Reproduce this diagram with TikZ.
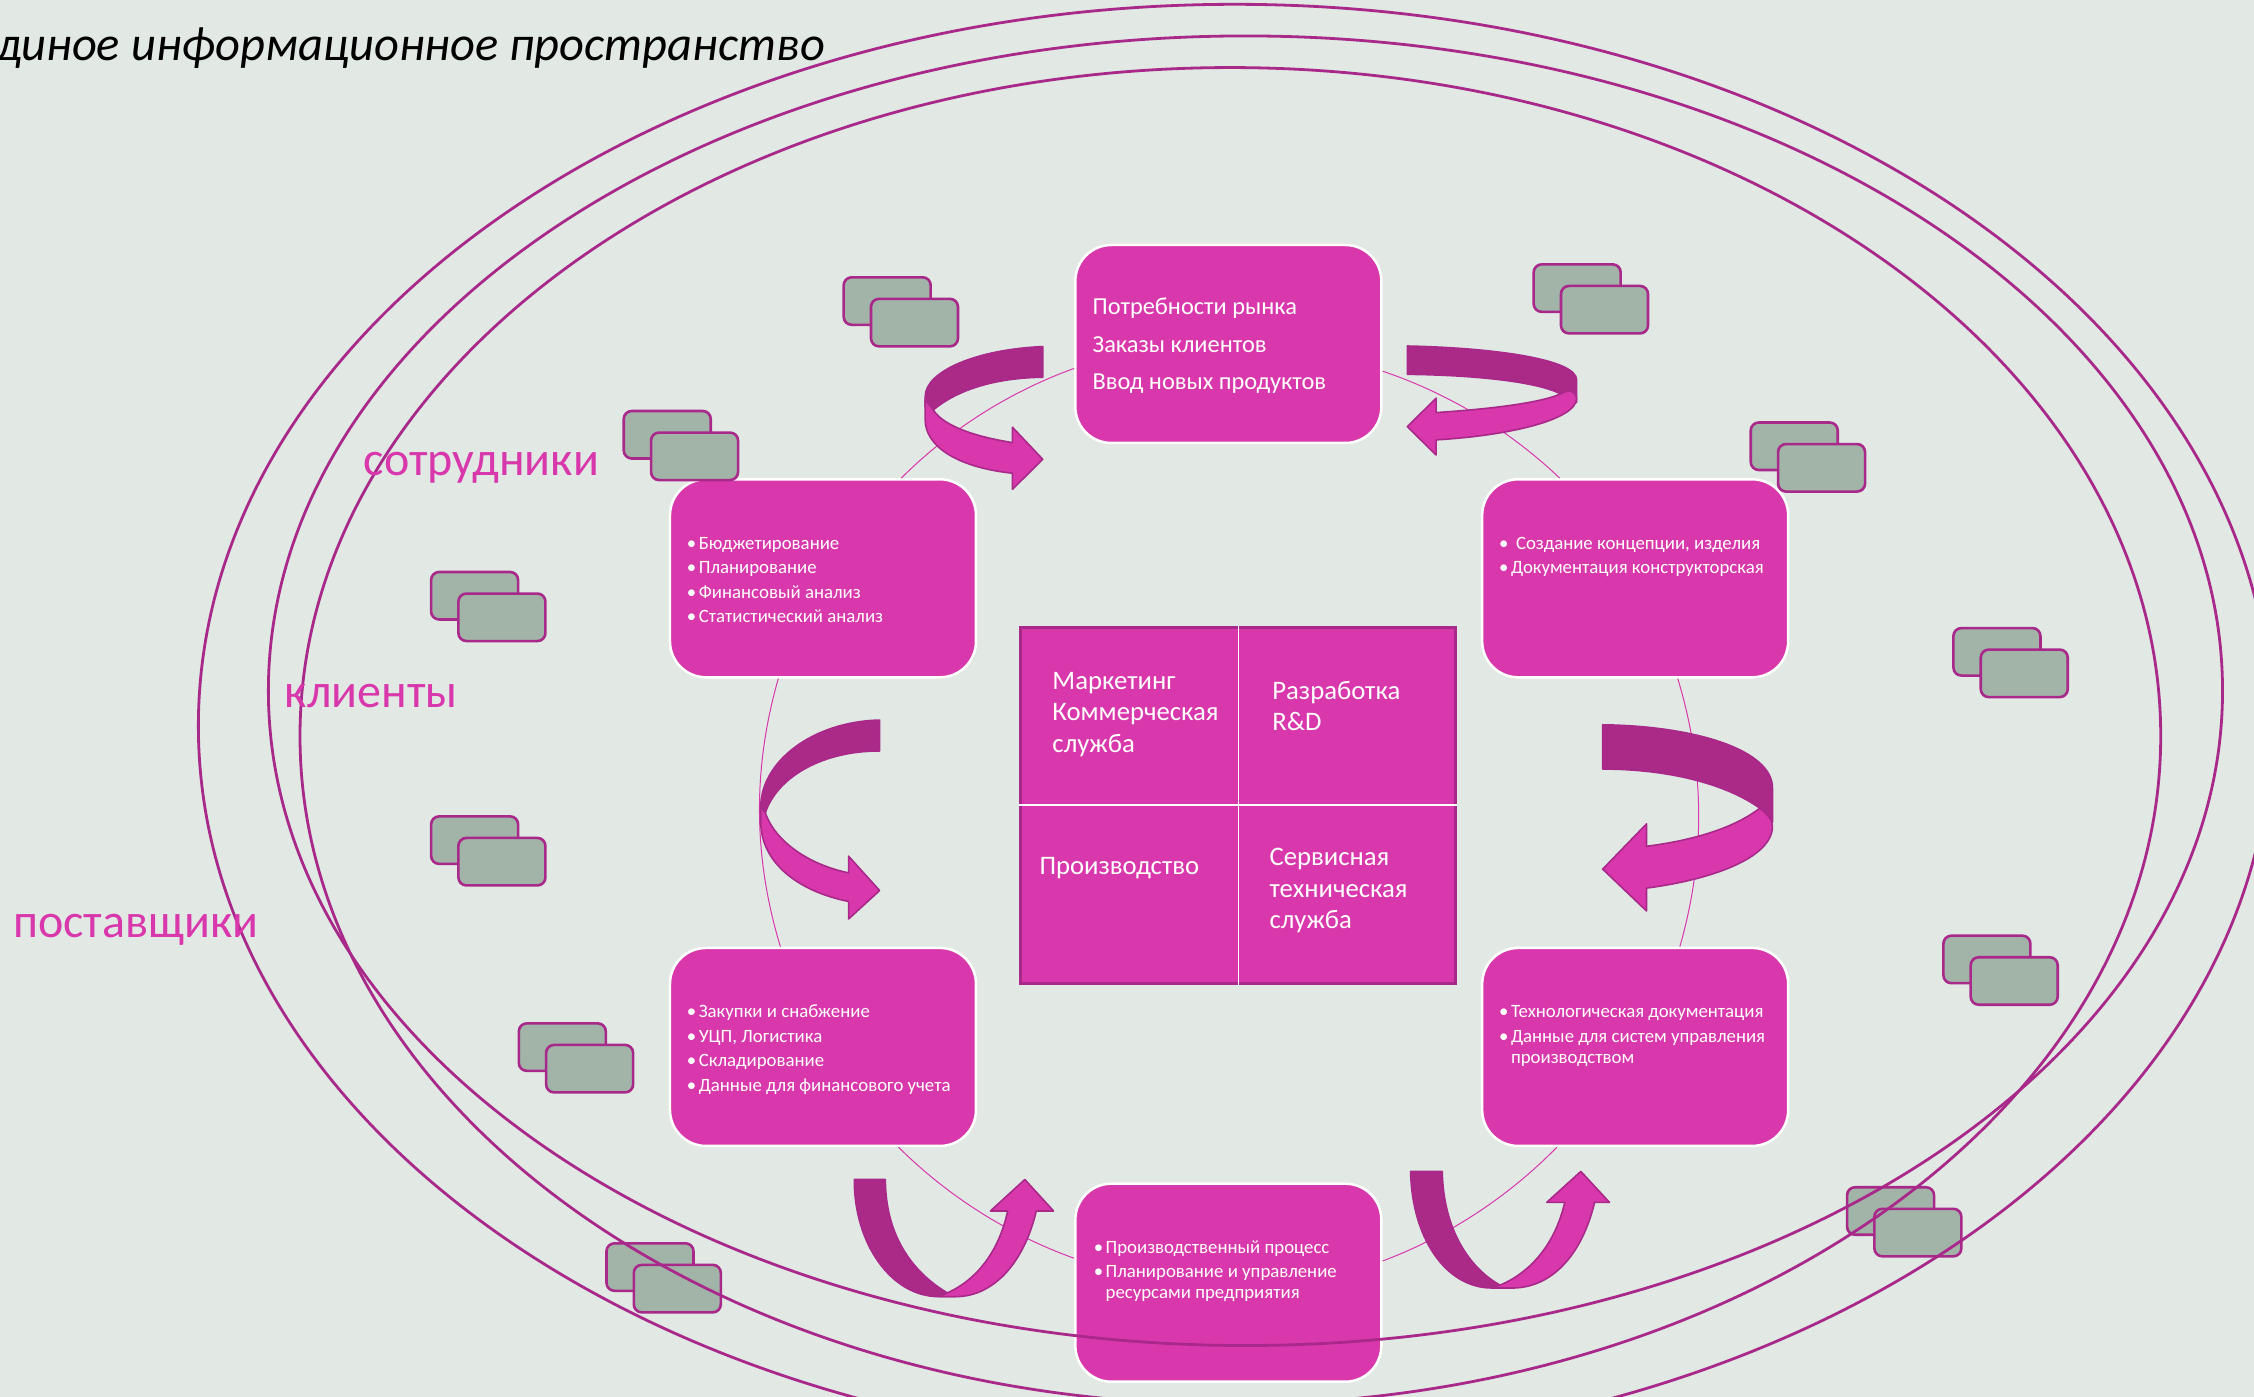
\documentclass[tikz,border=0pt]{standalone}
\usepackage{fontspec}
\setmainfont{Carlito}
\usetikzlibrary{calc}
\definecolor{bgc}{HTML}{E2E9E4}
\definecolor{mag}{HTML}{D838AC}
\definecolor{pur}{HTML}{A8298A}
\definecolor{drk}{HTML}{AB2A88}
\definecolor{gry}{HTML}{A2B3A8}
\tikzset{
  procbox/.style={draw=white,fill=mag,line width=2.5pt,rounded corners=36pt,minimum width=306pt,minimum height=198pt,inner sep=0pt},
  backcard/.style={draw=pur,fill=gry,line width=2.6pt,rounded corners=8pt,minimum width=87pt,minimum height=47.5pt,inner sep=0pt,anchor=north west},
  frontcard/.style={backcard},
  ring/.style={draw=pur,line width=2.8pt},
  cyc/.style={draw=mag,line width=1pt},
  lightarrow/.style={draw=pur,fill=mag,line width=1.6pt,line join=round},
  darkarrow/.style={draw=pur,fill=drk,line width=1.6pt,line join=round},
  txs/.style={text=white,font=\fontsize{18.8}{20}\selectfont,anchor=base west,inner sep=0pt},
  txm/.style={text=white,font=\fontsize{24.4}{26}\selectfont,anchor=base west,inner sep=0pt},
  txl/.style={text=white,font=\fontsize{26.7}{28}\selectfont,anchor=base west,inner sep=0pt},
  outer/.style={text=mag,font=\fontsize{48}{50}\selectfont,anchor=base west,inner sep=0pt},
}
\newcommand{\bul}{\llap{•\hspace{2.5pt}}}
\newcommand{\cards}[3]{%
  \node[backcard] (#1a) at (#2,#3) {};
  \node[frontcard] (#1b) at ($(#2,#3)+(19,15)$) {};
}
\begin{document}
\begin{tikzpicture}[x=1.4375pt,y=-1.4375pt]
\useasboundingbox (0,0) rectangle (1568,971.8);
\fill[bgc] (0,0) rectangle (1568,971.8);

\node[procbox] (top) at (854.5,239.3) {};
\node[procbox] (lu) at (572.5,402.3) {};
\node[procbox] (ru) at (1137.5,402.3) {};
\node[procbox] (ll) at (572.5,728.3) {};
\node[procbox] (rl) at (1137.5,728.3) {};
\node[procbox] (bot) at (854.5,892.3) {};

\draw[cyc] (top.189.6) to[bend right=12.5,looseness=.86] (lu.52.1);
\draw[cyc] (top.350.6) to[bend left=12.5,looseness=.86] (ru.127.9);
\draw[cyc] (ru.293.5) to[bend left=16.5,looseness=.89] (rl.66.5);
\draw[cyc] (lu.246.5) to[bend right=16.5,looseness=.89] (ll.113.5);
\draw[cyc] (ll.307.9) to[bend right=12.5,looseness=.86] (bot.171);
\draw[cyc] (rl.232.1) to[bend left=12.5,looseness=.86] (bot.8.9);

\node[draw=pur,fill=mag,line width=3pt,minimum width=435pt,minimum height=356pt,inner sep=0pt] (tab) at (861.5,560) {};
\draw[white,line width=1.4pt] (tab.north) -- (tab.south);
\draw[white,line width=1.4pt] (tab.west) -- (tab.east);

% curved arrows
\filldraw[darkarrow] (725.4,241.1) .. controls (680,243) and (643.6,258) .. (643.6,276) -- (643.6,283) -- (649.2,285.2) .. controls (665,272) and (690,263) .. (725.4,262.4) -- cycle;
\filldraw[lightarrow] (649.2,285.2) .. controls (657,297) and (680,304) .. (704.3,307.9) -- (704.3,297.2) -- (725.4,319.5) -- (704.3,340.4) -- (704.3,329.2) .. controls (665,325) and (643.6,310) .. (643.6,292) -- (643.6,278) -- cycle;

\filldraw[darkarrow] (979,240.7) .. controls (1040,242) and (1096.8,250) .. (1096.8,264.3) -- (1096.8,280) -- (1085.6,274) .. controls (1070,266) and (1030,261) .. (979,260.4) -- cycle;
\filldraw[lightarrow] (1085.6,274) .. controls (1070,281) and (1030,285) .. (999,287) -- (999,277) -- (979,296.8) -- (999,316.5) -- (999,306) .. controls (1050,303) and (1096.8,292) .. (1096.8,277) .. controls (1096.8,273) and (1092,270) .. cycle;

\filldraw[darkarrow] (611.9,500.9) .. controls (565,502) and (529.2,530) .. (529.2,561.5) -- (529.2,566) -- (532.4,565.5) .. controls (540,542) and (570,522.4) .. (611.9,522.4) -- cycle;
\filldraw[lightarrow] (532.4,565.5) .. controls (540,587) and (565,602) .. (590.3,607.2) -- (590.3,595.6) -- (611.9,619.5) -- (590.3,639.3) -- (590.3,627.1) .. controls (555,620) and (529.2,600) .. (529.2,571.5) -- (529.2,561.5) -- cycle;

\filldraw[darkarrow] (1114.9,504.2) .. controls (1180,505) and (1233,522) .. (1233,548) -- (1233,572) -- (1224.2,562.2) .. controls (1200,545) and (1160,535) .. (1114.9,535) -- cycle;
\filldraw[lightarrow] (1224.2,562.2) .. controls (1205,577) and (1175,585) .. (1145.4,588.7) -- (1145.4,573.1) -- (1114.9,604.6) -- (1145.4,633.7) -- (1145.4,617.8) .. controls (1190,612) and (1233,597) .. (1233,574.8) .. controls (1233,570) and (1229,566) .. cycle;

\filldraw[darkarrow] (594.3,820.5) .. controls (594,865) and (620,902) .. (653,902) -- (665,902) -- (659,899.4) .. controls (635,885) and (616,860) .. (615.9,820.5) -- cycle;
\filldraw[lightarrow] (659,899.4) .. controls (680,890) and (695,870) .. (701,842.4) -- (689,842.4) -- (712.9,820.5) -- (732.9,842.4) -- (720.9,842.4) .. controls (712,880) and (690,902) .. (665,902) -- (653,902) -- cycle;

\filldraw[darkarrow] (981.3,814.9) .. controls (982,860) and (1005,896) .. (1038,896) -- (1052,896) -- (1043.5,894) .. controls (1022,882) and (1004,855) .. (1003.3,814.9) -- cycle;
\filldraw[lightarrow] (1043.5,894) .. controls (1065,885) and (1082,865) .. (1088.5,836.4) -- (1076,836.4) -- (1099.7,814.9) -- (1119.6,836.4) -- (1109.3,836.4) .. controls (1100,875) and (1078,896) .. (1052,896) -- (1038,896) -- cycle;

% card pairs
\cards{c1}{586}{192}
\cards{c2}{1066}{183}
\cards{c3}{433}{285}
\cards{c4}{1217}{293}
\cards{c5}{299}{397}
\cards{c6}{1358}{436}
\cards{c7}{299}{567}
\cards{c8}{1351}{650}
\cards{c9}{360}{711}
\cards{c10}{1284}{825}
\cards{c11}{421}{864}

% rings
\draw[ring] (859,505) ellipse [x radius=721,y radius=502];
\draw[ring] (866.4,480.5) ellipse [x radius=679.7,y radius=455.5];
\draw[ring] (855.9,512) ellipse [x radius=647.2,y radius=465];

% texts
\node[anchor=base east,inner sep=0pt,font=\fontsize{48.5}{50}\selectfont\itshape] (title) at (574,42) {Единое информационное пространство};
\node[outer] (l1) at (253,331) {сотрудники};
\node[outer] (l2) at (198,492.5) {клиенты};
\node[outer] (l3) at (9,652) {поставщики};

\node[txm] (t1) at (760,219) {Потребности рынка};
\node[txm] (t2) at (760,245) {Заказы клиентов};
\node[txm] (t3) at (760,271) {Ввод новых продуктов};

\node[txs] (a1) at (486,382) {\bul Бюджетирование};
\node[txs] (a2) at (486,399) {\bul Планирование};
\node[txs] (a3) at (486,416) {\bul Финансовый анализ};
\node[txs] (a4) at (486,433) {\bul Статистический анализ};

\node[txs] (b1) at (1051,382) {\bul\hspace{5pt}Создание концепции, изделия};
\node[txs] (b2) at (1051,399) {\bul Документация конструкторская};

\node[txs] (c1) at (486,708) {\bul Закупки и снабжение};
\node[txs] (c2) at (486,725) {\bul УЦП, Логистика};
\node[txs] (c3) at (486,742) {\bul Складирование};
\node[txs] (c4) at (486,759) {\bul Данные для финансового учета};

\node[txs] (d1) at (1051,708) {\bul Технологическая документация};
\node[txs] (d2) at (1051,725) {\bul Данные для систем управления};
\node[txs] (d3) at (1051,739.5) {производством};

\node[txs] (e1) at (769,872) {\bul Производственный процесс};
\node[txs] (e2) at (769,889) {\bul Планирование и управление};
\node[txs] (e3) at (769,903) {ресурсами предприятия};

\node[txl] (m1) at (732,479.5) {Маркетинг};
\node[txl] (m2) at (732,501.5) {Коммерческая};
\node[txl] (m3) at (732,523.5) {служба};
\node[txl] (r1) at (885,486.5) {Разработка};
\node[txl] (r2) at (885,508.5) {R\&D};
\node[txl] (p1) at (723,608) {Производство};
\node[txl] (s1) at (883,602) {Сервисная};
\node[txl] (s2) at (883,624) {техническая};
\node[txl] (s3) at (883,646) {служба};
\end{tikzpicture}
\end{document}
